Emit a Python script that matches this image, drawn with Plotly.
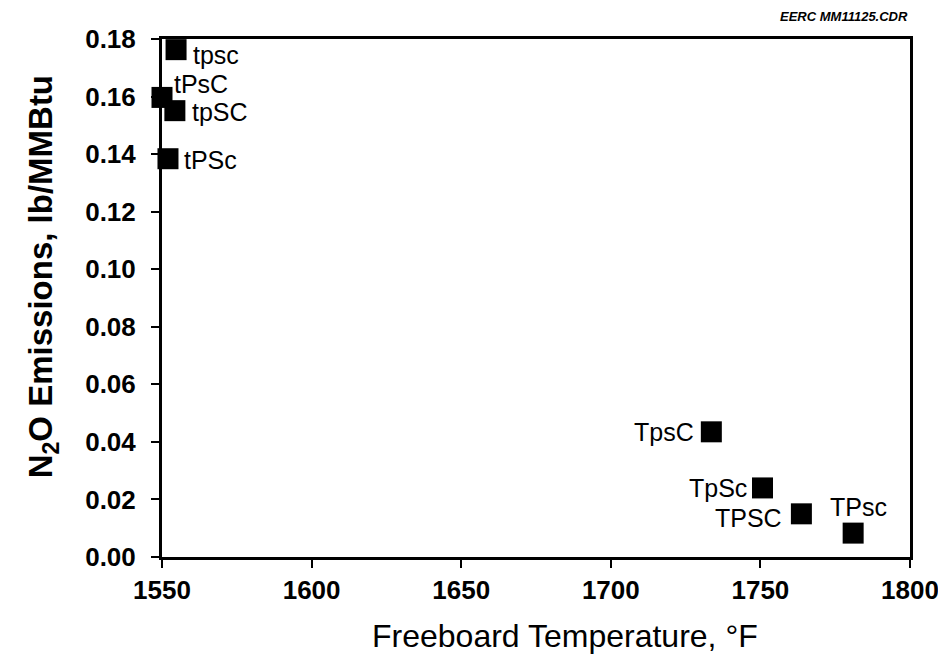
import plotly.graph_objects as go

labels = ["tpsc", "tPsC", "tpSC", "tPSc", "TpsC", "TpSc", "TPSC", "TPsc"]
temps = [1554.7, 1550.0, 1554.3, 1552.0, 1733.6, 1750.7, 1763.7, 1781.0]
n2o = [0.1763, 0.1597, 0.1551, 0.1384, 0.0435, 0.0240, 0.0150, 0.0083]

x_ticks = [1550, 1600, 1650, 1700, 1750, 1800]
y_ticks = [0.00, 0.02, 0.04, 0.06, 0.08, 0.10, 0.12, 0.14, 0.16, 0.18]

# label placement (style): xanchor, xshift, yshift
label_pos = {
    "tpsc": ("left", 15, -5),
    "tPsC": ("left", 10, 13),
    "tpSC": ("left", 15, -1),
    "tPSc": ("left", 14, -1),
    "TpsC": ("right", -15, 0),
    "TpSc": ("right", -13, 0),
    "TPSC": ("right", -17, -4),
    "TPsc": ("center", 5, 26),
}

FONT = "Liberation Sans, Arial, sans-serif"

fig = go.Figure()
fig.add_trace(go.Scatter(
    x=temps, y=n2o, mode="markers",
    marker=dict(symbol="square", size=21, color="black", line=dict(width=0)),
    cliponaxis=False, showlegend=False,
))

for lab, xv, yv in zip(labels, temps, n2o):
    xa, xs, ys = label_pos[lab]
    fig.add_annotation(x=xv, y=yv, text=lab, showarrow=False,
                       xanchor=xa, yanchor="middle", xshift=xs, yshift=ys,
                       font=dict(family=FONT, size=25, color="black"))

fig.add_annotation(x=1.0, y=1.0, xref="paper", yref="paper", yshift=23,
                   text="<b><i>EERC MM11125.CDR</i></b>",
                   showarrow=False, xanchor="right", yanchor="middle",
                   font=dict(family=FONT, size=13, color="black"))

fig.add_annotation(text="Freeboard Temperature, °F", xref="paper", yref="paper",
                   x=0.539, y=-0.1525, xanchor="center", yanchor="middle", showarrow=False,
                   font=dict(family=FONT, size=32, color="black"))
fig.add_annotation(text="<b>N<sub>2</sub>O Emissions, lb/MMBtu</b>", xref="paper", yref="paper",
                   x=-0.159, y=0.54, xanchor="center", yanchor="middle", textangle=-90,
                   showarrow=False, font=dict(family=FONT, size=33, color="black"))

fig.update_layout(
    width=938, height=646,
    margin=dict(l=154, r=36, t=31, b=97, autoexpand=False),
    paper_bgcolor="white", plot_bgcolor="white",
    font=dict(family=FONT, color="black"),
)

fig.update_xaxes(range=[1550, 1800], tickvals=x_ticks, ticktext=[str(v) for v in x_ticks],
                 showgrid=False, zeroline=False, showline=True, linecolor="black", linewidth=3,
                 mirror=True, ticks="outside", ticklen=8, tickwidth=2, tickcolor="black",
                 automargin=False,
                 tickfont=dict(family=FONT, size=26, color="black", weight="bold"))
fig.update_yaxes(range=[0, 0.18], tickvals=y_ticks, ticktext=[f"{v:.2f}" for v in y_ticks],
                 showgrid=False, zeroline=False, showline=True, linecolor="black", linewidth=3,
                 mirror=True, ticks="outside", ticklen=8, tickwidth=2, tickcolor="black",
                 automargin=False, ticklabelstandoff=10,
                 tickfont=dict(family=FONT, size=26, color="black", weight="bold"))

fig.write_html("out.html")
